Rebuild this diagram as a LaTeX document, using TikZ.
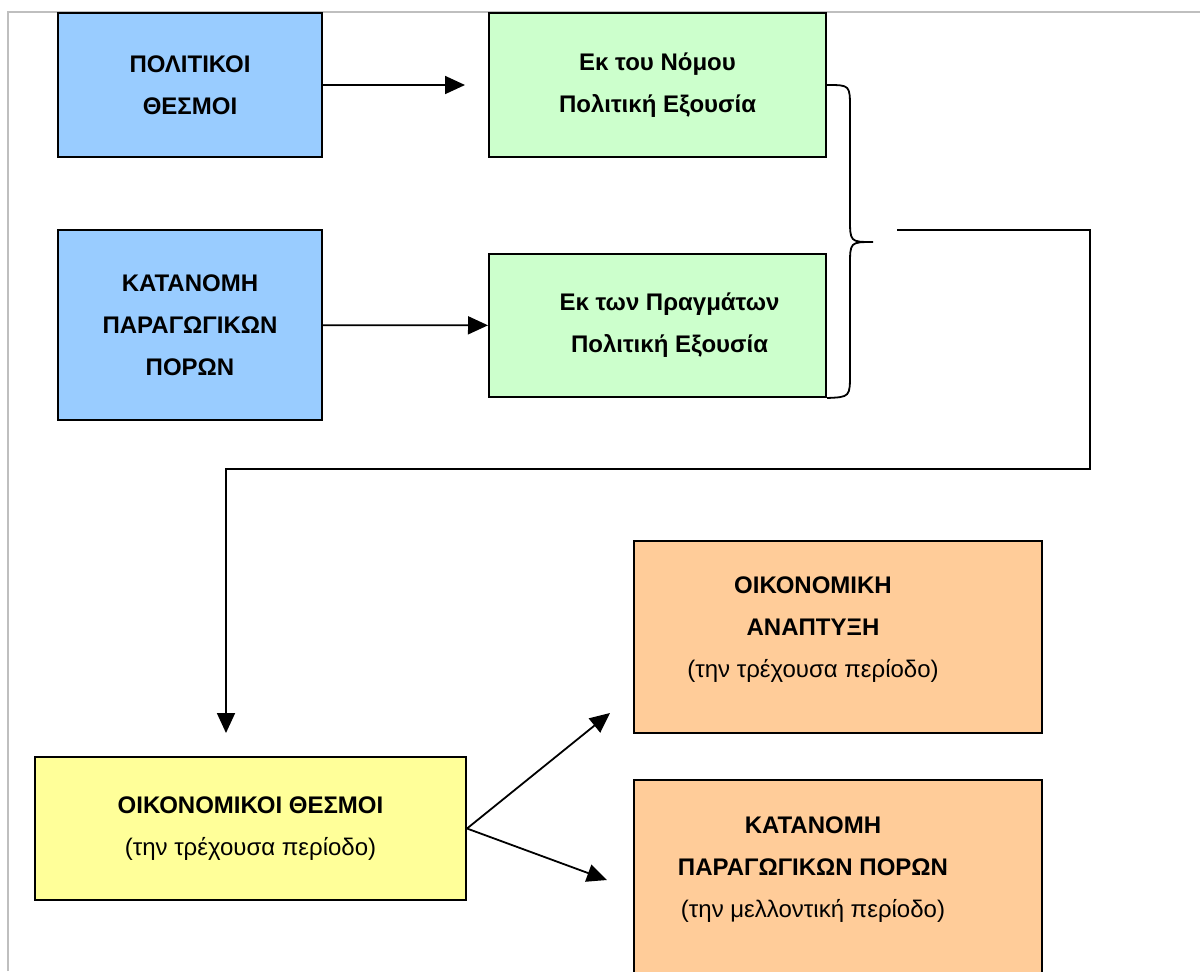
\documentclass[tikz,border=0pt]{standalone}
\usepackage{fontspec}
\setmainfont{Liberation Sans}
\usetikzlibrary{arrows.meta,positioning}
\definecolor{polblue}{HTML}{99CCFF}
\definecolor{powgreen}{HTML}{CCFFCC}
\definecolor{ecoyellow}{HTML}{FFFF99}
\definecolor{outorange}{HTML}{FFCC99}
\tikzset{
    block/.style={
           rectangle,
           draw=black, line width=1pt,
           inner sep=2pt,
           align=center,
           font=\fontsize{12}{21}\selectfont,
           },
    boldblock/.style={
           block,
           font=\fontsize{12}{21}\selectfont\bfseries,
           },
    blocktext/.style={
           align=center,
           inner sep=0pt,
           font=\fontsize{12}{21}\selectfont,
           },
    flow/.style={
           ->, line width=0.9pt,
           },
}

\begin{document}
\begin{tikzpicture}[x=0.5pt,y=-0.5pt,
                    >={Triangle[length=10pt,width=9pt]}]

  \useasboundingbox (0,0) rectangle (1200,971);
  \clip (0,0) rectangle (1200,971);
  \draw[black!25, line width=0.8pt] (8,971) -- (8,12) -- (1200,12);

  \node[boldblock, fill=polblue, minimum width=132pt, minimum height=72pt]
        (pol)    at (190,85)      {ΠΟΛΙΤΙΚΟΙ\\ΘΕΣΜΟΙ};
  \node[boldblock, fill=polblue, minimum width=132pt, minimum height=95pt]
        (katan)  at (190,325)     {ΚΑΤΑΝΟΜΗ\\ΠΑΡΑΓΩΓΙΚΩΝ\\ΠΟΡΩΝ};
  \node[boldblock, fill=powgreen, minimum width=168.5pt, minimum height=72pt]
        (nomou)  at (657.5,85)    {Εκ του Νόμου\\Πολιτική Εξουσία};
  \node[boldblock, fill=powgreen, minimum width=168.5pt, minimum height=71.5pt]
        (pragm)  at (657.5,325.5) {\hspace*{12pt}Εκ των Πραγμάτων\\\hspace*{12pt}Πολιτική Εξουσία};
  \node[block, fill=ecoyellow, minimum width=215.5pt, minimum height=71.5pt]
        (oikth)  at (250.5,828.5) {\textbf{ΟΙΚΟΝΟΜΙΚΟΙ ΘΕΣΜΟΙ}\\(την τρέχουσα περίοδο)};
  \node[block, fill=outorange, minimum width=204pt, minimum height=96pt]
        (anapt)  at (838,637)     {};
  \node[block, fill=outorange, minimum width=204pt, minimum height=110pt]
        (katfut) at (838,890)     {};
  \node[blocktext] (anaptT)  at ([shift={(-25,-7)}]anapt.center)
        {\textbf{ΟΙΚΟΝΟΜΙΚΗ}\\\textbf{ΑΝΑΠΤΥΞΗ}\\(την τρέχουσα περίοδο)};
  \node[blocktext] (katfutT) at ([shift={(-25,-20)}]katfut.center)
        {\textbf{ΚΑΤΑΝΟΜΗ}\\\textbf{ΠΑΡΑΓΩΓΙΚΩΝ ΠΟΡΩΝ}\\(την μελλοντική περίοδο)};

  \coordinate (braceTip) at (873,242);
  \coordinate (outStart) at (897,230);
  \coordinate (turnR)    at (1090,469);
  \coordinate (downTip)  at (226,733);
  \coordinate (upTip)    at (610,713);
  \coordinate (lowTip)   at (607,880);

  % brace joining the two kinds of power
  \draw[line width=0.9pt] (nomou.east) .. controls (850,85) .. (850,109) -- (850,218)
        .. controls (850,242) .. (braceTip) .. controls (850,242) .. (850,266)
        -- (850,373) .. controls (850,397) .. (pragm.south east);

  \draw[flow, shorten >=11.5pt] (pol) -- (nomou);
  \draw[flow] (katan) -- (pragm);
  \draw[flow] (outStart) -| (turnR) -| (downTip);
  \draw[flow] (oikth.east) -- (upTip);
  \draw[flow] (oikth.east) -- (lowTip);

\end{tikzpicture}
\end{document}
